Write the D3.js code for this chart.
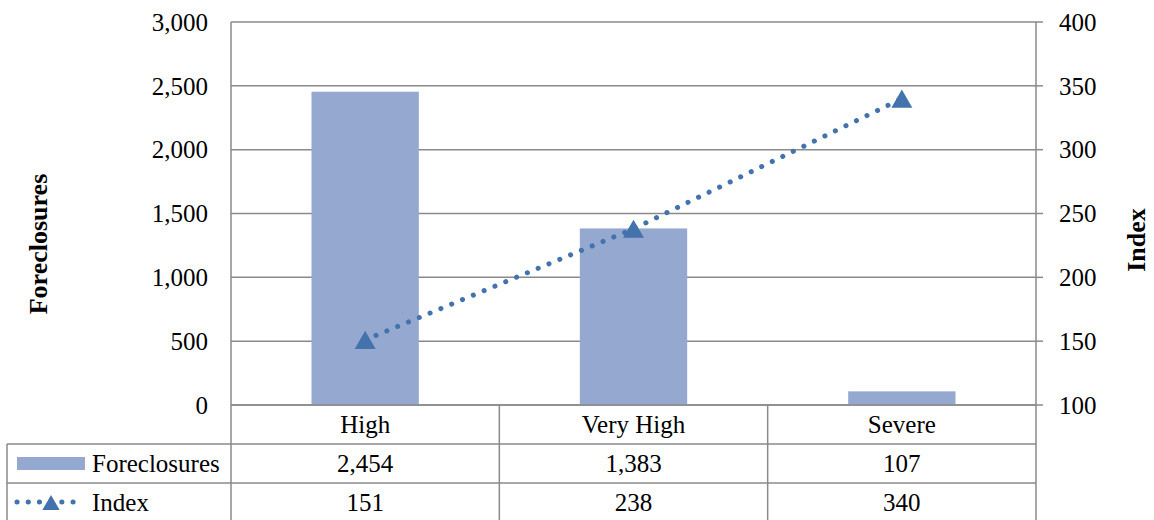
<!DOCTYPE html>
<html><head><meta charset="utf-8">
<script src="https://cdn.jsdelivr.net/npm/d3@7"></script>
<style>body{margin:0;background:#fff}svg{display:block}</style>
</head><body><svg id="c" width="1154" height="520" font-family="Liberation Serif, DejaVu Serif, serif"></svg>
<script>
const categories = ["High", "Very High", "Severe"];
const foreclosures = [2454, 1383, 107];
const indexValues = [151, 238, 340];
const leftTicks = [0, 500, 1000, 1500, 2000, 2500, 3000];
const rightTicks = [100, 150, 200, 250, 300, 350, 400];
const seriesNames = ["Foreclosures", "Index"];

const svg = d3.select("#c");
const L = 231, R = 1036, T = 22, B = 405;
const grid = "#8a8a8a", barColor = "#95a9d0", lineColor = "#4472ac";
const FS = 25;
const fmt = d3.format(",");

const x = d3.scaleBand().domain(categories).range([L, R]).paddingInner(0).paddingOuter(0);
const yL = d3.scaleLinear().domain([0, 3000]).range([B, T]);
const yR = d3.scaleLinear().domain([100, 400]).range([B, T]);

// gridlines
svg.append("g").selectAll("line").data(leftTicks).join("line")
  .attr("x1", L).attr("x2", R).attr("y1", d => yL(d)).attr("y2", d => yL(d))
  .attr("stroke", grid).attr("stroke-width", 1.5);

// left axis labels
svg.append("g").selectAll("text").data(leftTicks).join("text")
  .attr("x", 208).attr("y", d => yL(d)).attr("dy", "0.35em").attr("text-anchor", "end")
  .attr("font-size", FS).text(d => fmt(d));

// right axis
svg.append("line").attr("x1", R).attr("x2", R).attr("y1", T).attr("y2", B).attr("stroke", grid).attr("stroke-width", 1.5);
svg.append("g").selectAll("line").data(rightTicks).join("line")
  .attr("x1", R).attr("x2", 1043).attr("y1", d => yR(d)).attr("y2", d => yR(d))
  .attr("stroke", grid).attr("stroke-width", 1.5);
svg.append("g").selectAll("text").data(rightTicks).join("text")
  .attr("x", 1059).attr("y", d => yR(d)).attr("dy", "0.35em")
  .attr("font-size", FS).text(d => d);

// left axis line
svg.append("line").attr("x1", L).attr("x2", L).attr("y1", T).attr("y2", B).attr("stroke", grid).attr("stroke-width", 1.5);

// bars
const bw = x.bandwidth() * 0.4;
svg.append("g").selectAll("rect").data(foreclosures).join("rect")
  .attr("x", (d, i) => x(categories[i]) + (x.bandwidth() - bw) / 2)
  .attr("width", bw)
  .attr("y", d => yL(d)).attr("height", d => B - yL(d))
  .attr("fill", barColor);

// redraw baseline
svg.append("line").attr("x1", L).attr("x2", R).attr("y1", B).attr("y2", B).attr("stroke", grid).attr("stroke-width", 1.5);

// line
const cx = (d, i) => x(categories[i]) + x.bandwidth() / 2;
svg.append("path").datum(indexValues)
  .attr("d", d3.line().x(cx).y(d => yR(d)))
  .attr("fill", "none").attr("stroke", lineColor).attr("stroke-width", 5)
  .attr("stroke-linecap", "round").attr("stroke-dasharray", "0.1 11.6");
const tri = d3.symbol().type(d3.symbolTriangle).size(190);
svg.append("g").selectAll("path").data(indexValues).join("path")
  .attr("transform", (d, i) => `translate(${cx(d, i)},${yR(d) + 3})`)
  .attr("d", tri).attr("fill", lineColor);

// axis titles
svg.append("text").attr("transform", "translate(47,244) rotate(-90)").attr("text-anchor", "middle")
  .attr("font-size", 26).attr("font-weight", "bold").text("Foreclosures");
svg.append("text").attr("transform", "translate(1145,240) rotate(-90)").attr("text-anchor", "middle")
  .attr("font-size", 26).attr("font-weight", "bold").text("Index");

// data table
const rowY = [405, 444, 483, 521];
const tbl = svg.append("g");
tbl.append("line").attr("x1", 7).attr("x2", R).attr("y1", rowY[1]).attr("y2", rowY[1]).attr("stroke", grid).attr("stroke-width", 1.5);
tbl.append("line").attr("x1", 7).attr("x2", R).attr("y1", rowY[2]).attr("y2", rowY[2]).attr("stroke", grid).attr("stroke-width", 1.5);
const vx = [L].concat(categories.map(c => x(c) + x.bandwidth()));
tbl.selectAll("line.v").data(vx).join("line").attr("class", "v")
  .attr("x1", d => d).attr("x2", d => d).attr("y1", B).attr("y2", 520).attr("stroke", grid).attr("stroke-width", 1.5);
tbl.append("line").attr("x1", 7).attr("x2", 7).attr("y1", rowY[1]).attr("y2", 520).attr("stroke", grid).attr("stroke-width", 1.5);

tbl.selectAll("text.cat").data(categories).join("text").attr("class", "cat")
  .attr("x", d => x(d) + x.bandwidth() / 2).attr("y", (rowY[0] + rowY[1]) / 2).attr("dy", "0.35em")
  .attr("text-anchor", "middle").attr("font-size", FS).text(d => d);
tbl.selectAll("text.f").data(foreclosures).join("text").attr("class", "f")
  .attr("x", (d, i) => cx(d, i)).attr("y", (rowY[1] + rowY[2]) / 2).attr("dy", "0.35em")
  .attr("text-anchor", "middle").attr("font-size", FS).text(d => fmt(d));
tbl.selectAll("text.ix").data(indexValues).join("text").attr("class", "ix")
  .attr("x", (d, i) => cx(d, i)).attr("y", (rowY[2] + rowY[3]) / 2).attr("dy", "0.35em")
  .attr("text-anchor", "middle").attr("font-size", FS).text(d => d);

// legend keys
tbl.append("rect").attr("x", 17).attr("y", 457).attr("width", 68).attr("height", 13).attr("fill", barColor);
tbl.append("text").attr("x", 92).attr("y", 463.5).attr("dy", "0.35em").attr("font-size", FS).text(seriesNames[0]);
tbl.append("line").attr("x1", 17).attr("x2", 78).attr("y1", 502).attr("y2", 502)
  .attr("stroke", lineColor).attr("stroke-width", 5).attr("stroke-linecap", "round").attr("stroke-dasharray", "0.1 11.1");
tbl.append("path").attr("transform", "translate(51,505)")
  .attr("d", d3.symbol().type(d3.symbolTriangle).size(130)).attr("fill", lineColor);
tbl.append("text").attr("x", 92).attr("y", 502).attr("dy", "0.35em").attr("font-size", FS).text(seriesNames[1]);
</script></body></html>
